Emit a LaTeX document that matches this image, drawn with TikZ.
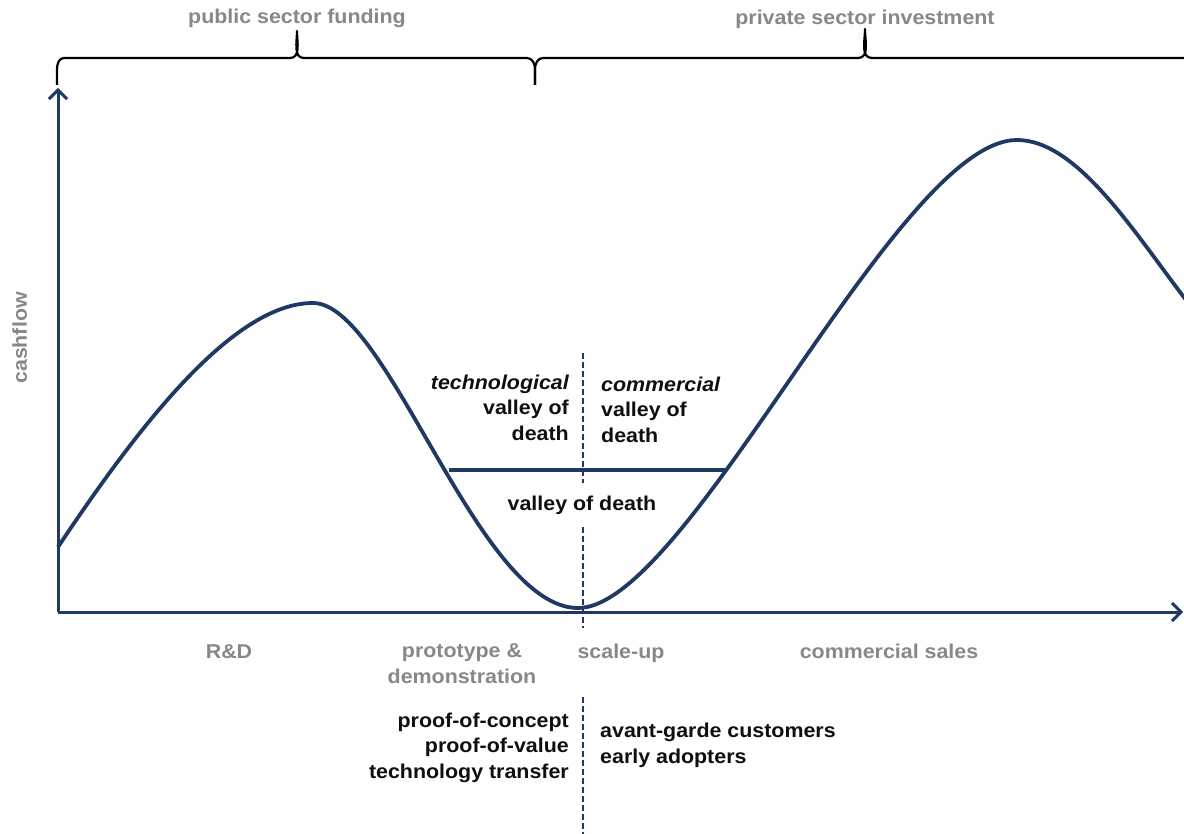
\documentclass[tikz,border=0pt]{standalone}
\usepackage{fontspec}
\setmainfont{Liberation Sans}[FakeStretch=1.07]
\usetikzlibrary{arrows.meta}
\definecolor{navy}{RGB}{31,56,100}
\definecolor{lbl}{RGB}{136,136,136}
\definecolor{ink}{RGB}{15,15,15}
\tikzset{
  txt/.style={inner sep=0pt, font=\fontsize{20}{25.5}\selectfont\bfseries},
  blk/.style={txt, text=ink},
  gry/.style={txt, text=lbl},
  axisline/.style={draw=navy, line width=3pt, -{Straight Barb[length=9pt,width=18pt,line width=3pt]}},
  curveline/.style={draw=navy, line width=3.8pt},
  levelline/.style={draw=navy, line width=3.5pt},
  divider/.style={draw=navy, line width=2.3pt, dash pattern=on 6pt off 3pt},
  bracket/.style={draw=black, line width=2.2pt, line join=round}
}
\begin{document}
\begin{tikzpicture}[x=1pt,y=-1pt]
\useasboundingbox (0,0) rectangle (1184,834);
\fill[white] (0,0) rectangle (1184,834);

% axes
\coordinate (O) at (58,612);
\coordinate (ytop) at (58,88);
\coordinate (xend) at (1183,612);
\draw[axisline] (O) -- (ytop);
\draw[axisline] (O) -- (xend);

% cashflow curve
\draw[curveline] (58,547)
  .. controls (138,427) and (233,303) .. (313,303)
  .. controls (388,303) and (478,608) .. (578,608)
  .. controls (688,608) and (897,140) .. (1017,140)
  .. controls (1077,140) and (1134,232) .. (1186,300);

% valley of death level
\coordinate (vl) at (449,470);
\coordinate (vr) at (726,470);
\draw[levelline] (vl) -- (vr);

% dashed divider
\coordinate (d1) at (583,353);
\coordinate (d2) at (583,483);
\coordinate (d3) at (583,527);
\coordinate (d4) at (583,628);
\coordinate (d5) at (583,697);
\coordinate (d6) at (583,834);
\draw[divider] (d1) -- (d2);
\draw[divider] (d3) -- (d4);
\draw[divider] (d5) -- (d6);

% braces
\draw[bracket] (57,85) -- (57,69) to[out=90,in=180] (64,58) -- (290,58)
  to[out=0,in=-90] (297,31) to[out=-90,in=180] (304,58) -- (527,58)
  to[out=0,in=90] (535,69) -- (535,85);
\draw[bracket] (535,85) -- (535,69) to[out=90,in=180] (543,58) -- (858,58)
  to[out=0,in=-90] (865,29) to[out=-90,in=180] (872,58) -- (1184,58);

% top labels
\node[gry, anchor=base] (pub) at (297,24) {public sector funding};
\node[gry, anchor=base] (priv) at (865,25) {private sector investment};

% y label
\node[gry, rotate=90, anchor=base] (cash) at (27,338) {cashflow};

% middle labels
\node[blk, anchor=base east, align=right] (tech) at (569,440)
  {\itshape technological\\valley of\\death};
\node[blk, anchor=base west, align=left] (comm) at (601,442)
  {\itshape commercial\\valley of\\death};
\node[blk, anchor=base] (vod) at (582,510) {valley of death};

% phase labels
\node[gry, anchor=base] (rd) at (229,658) {R\&D};
\node[gry, anchor=base, align=center] (proto) at (462,683) {prototype \&\\demonstration};
\node[gry, anchor=base] (scale) at (621,658) {scale-up};
\node[gry, anchor=base] (sales) at (889,658) {commercial sales};

% bottom labels
\node[blk, anchor=base east, align=right] (proof) at (569,778)
  {proof-of-concept\\proof-of-value\\technology transfer};
\node[blk, anchor=base west, align=left] (cust) at (600,763)
  {avant-garde customers\\early adopters};
\end{tikzpicture}
\end{document}
